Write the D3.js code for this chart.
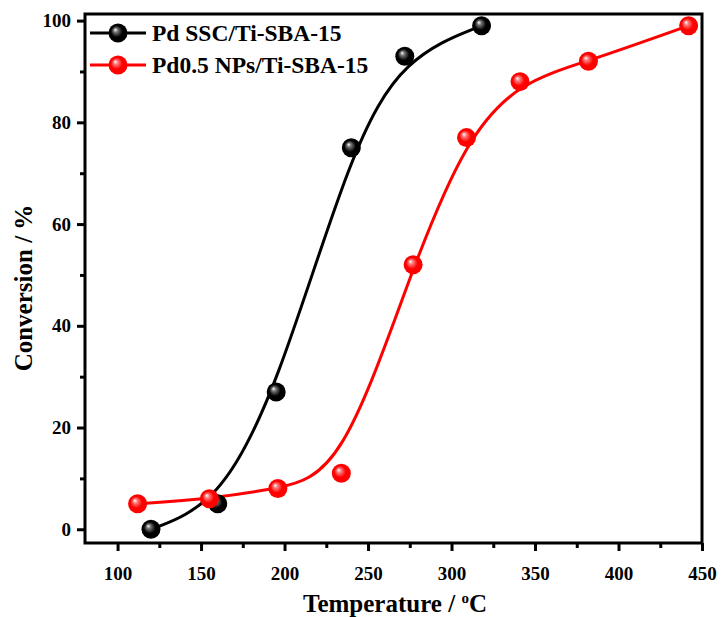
<!DOCTYPE html>
<html>
<head>
<meta charset="utf-8">
<script src="https://cdn.jsdelivr.net/npm/d3@7"></script>
<style>
  body { margin: 0; background: #fff; }
  text { font-family: "Liberation Serif", "Times New Roman", serif; font-weight: bold; }
</style>
</head>
<body>
<div class="chart"></div>
<script>
// data
const sscTemp = [120, 160, 195, 240, 272, 318];
const sscConv = [0, 5, 27, 75, 93, 99];
const npTemp = [112, 155, 196, 234, 277, 309, 341, 382, 442];
const npConv = [5, 6, 8, 11, 52, 77, 88, 92, 99];
const seriesNames = ["Pd SSC/Ti-SBA-15", "Pd0.5 NPs/Ti-SBA-15"];
const seriesColors = ["#000000", "#ff0000"];
const xTicks = [100, 150, 200, 250, 300, 350, 400, 450];
const yTicks = [0, 20, 40, 60, 80, 100];

let w = 722, h = 617;
let m = {left: 85, right: 20, top: 14, bottom: 74};

let svg = d3.select(".chart").append("svg")
    .attr("width", w)
    .attr("height", h);

let x = d3.scaleLinear().domain([80.5, 450]).range([m.left, w - m.right]);
let y = d3.scaleLinear().domain([-2.7, 101.3]).range([h - m.bottom, m.top]);

// glossy ball gradients
let defs = svg.append("defs");
function ball(id, base, mid) {
    let g = defs.append("radialGradient")
        .attr("id", id)
        .attr("cx", "0.5").attr("cy", "0.5").attr("r", "0.55")
        .attr("fx", "0.35").attr("fy", "0.32");
    g.append("stop").attr("offset", "0").attr("stop-color", "#ffffff");
    g.append("stop").attr("offset", "0.2").attr("stop-color", mid);
    g.append("stop").attr("offset", "0.55").attr("stop-color", base);
    g.append("stop").attr("offset", "1").attr("stop-color", base);
}
ball("ballK", "#000000", "#777777");
ball("ballR", "#ff0000", "#ff8080");
const fills = ["url(#ballK)", "url(#ballR)"];

let series = [
    sscTemp.map((t, i) => ({t: t, c: sscConv[i]})),
    npTemp.map((t, i) => ({t: t, c: npConv[i]}))
];

let line = d3.line()
    .x(d => x(d.t))
    .y(d => y(d.c))
    .curve(d3.curveBasis);

series.forEach(function (s, k) {
    svg.append("path")
        .datum(s)
        .attr("d", line)
        .attr("fill", "none")
        .attr("stroke", seriesColors[k])
        .attr("stroke-width", 3);
});

series.forEach(function (s, k) {
    svg.append("g").selectAll("circle")
        .data(s)
        .enter().append("circle")
        .attr("cx", d => x(d.t))
        .attr("cy", d => y(d.c))
        .attr("r", 9.5)
        .attr("fill", fills[k]);
});

// axes
let xAxis = svg.append("g")
    .attr("transform", "translate(0," + (h - m.bottom) + ")")
    .call(d3.axisBottom(x).tickValues(xTicks).tickSize(8).tickSizeOuter(0).tickPadding(16));
let xMinor = svg.append("g")
    .attr("transform", "translate(0," + (h - m.bottom) + ")")
    .call(d3.axisBottom(x).tickValues(d3.range(125, 450, 50)).tickSize(5).tickFormat(""));
let yAxis = svg.append("g")
    .attr("transform", "translate(" + m.left + ",0)")
    .call(d3.axisLeft(y).tickValues(yTicks).tickSize(8).tickSizeOuter(0).tickPadding(6));
let yMinor = svg.append("g")
    .attr("transform", "translate(" + m.left + ",0)")
    .call(d3.axisLeft(y).tickValues(d3.range(10, 100, 20)).tickSize(5).tickFormat(""));

[xAxis, xMinor, yAxis, yMinor].forEach(function (a) {
    a.select(".domain").remove();
    a.selectAll("line").attr("stroke", "#000").attr("stroke-width", 3);
    a.selectAll("text").attr("fill", "#000").style("font-size", "19px");
});

// frame
svg.append("rect")
    .attr("x", m.left)
    .attr("y", m.top)
    .attr("width", w - m.right - m.left)
    .attr("height", h - m.bottom - m.top)
    .attr("fill", "none")
    .attr("stroke", "#000")
    .attr("stroke-width", 3);

// axis titles
let xt = svg.append("text")
    .attr("x", 395)
    .attr("y", 612)
    .attr("text-anchor", "middle")
    .style("font-size", "25px");
xt.append("tspan").text("Temperature / ");
xt.append("tspan").attr("dy", -9).style("font-size", "15px").text("o");
xt.append("tspan").attr("dy", 9).text("C");

svg.append("text")
    .attr("transform", "translate(32,288) rotate(-90)")
    .attr("text-anchor", "middle")
    .style("font-size", "25px")
    .text("Conversion / %");

// legend
let legend = svg.append("g");
seriesNames.forEach(function (name, k) {
    let ly = 33 + k * 32;
    legend.append("line")
        .attr("x1", 90).attr("x2", 146)
        .attr("y1", ly).attr("y2", ly)
        .attr("stroke", seriesColors[k])
        .attr("stroke-width", 3);
    legend.append("circle")
        .attr("cx", 118).attr("cy", ly)
        .attr("r", 9.5)
        .attr("fill", fills[k]);
    legend.append("text")
        .attr("x", 152).attr("y", ly + 8)
        .style("font-size", "23.5px")
        .text(name);
});
</script>
</body>
</html>
